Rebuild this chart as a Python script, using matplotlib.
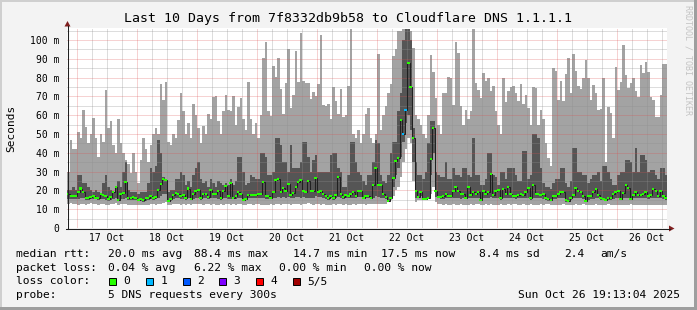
import numpy as np
import pandas as pd
import matplotlib
matplotlib.use("Agg")
import matplotlib.pyplot as plt
import matplotlib.dates as mdates
from matplotlib.patches import Rectangle, Polygon

# hourly consolidated smoke (5 sorted pings), values in ms
ping_min = [
    13, 13.5, 13, 13,
    12.5, 13, 13, 12.5, 13, 13.5, 13, 13, 12.5, 13, 13, 12.5, 12.5, 13, 13, 13.5, 12.5, 13, 13, 13, 12.5, 12.5, 12.5, 12,
    12, 12, 12.5, 12.5, 12.5, 13, 13, 12.5, 13, 13, 13.5, 14, 12.5, 12.5, 13, 13, 13, 12.5, 13, 12.5, 13, 12.5, 13, 13,
    13, 13, 12.5, 13, 13, 12.5, 13, 12.5, 12.5, 13, 12.5, 13, 13, 12.5, 13, 12.5, 13, 13, 12.5, 12.5, 13, 13, 12.5, 13,
    13, 12.5, 12.5, 12, 12.5, 13, 12.5, 13, 13, 12.5, 13, 13, 13, 12.5, 13, 13, 13, 12.5, 13, 13, 13.5, 13, 12.5, 13,
    13, 12.5, 13, 12.5, 12.5, 12.5, 13, 12.5, 13, 13, 12.5, 13, 12.5, 12.5, 13, 12.5, 13, 13, 13, 12.5, 13, 13, 13, 13,
    13, 13, 13, 13, 14, 15, 17, 20, 22, 27, 35, 42, 48, 45, 25, 14, 15, 15, 16, 17, 16, 18, 22, 14,
    13, 13, 12.5, 13, 12.5, 12.5, 13, 12.5, 12.5, 13, 12.5, 12, 12.5, 13, 12.5, 13, 13, 12.5, 12.5, 13, 12.5, 13, 12.5, 12.5,
    12.5, 13, 12.5, 12.5, 13, 12.5, 13, 13, 12.5, 12.5, 13, 12.5, 12.5, 13, 12.5, 12.5, 12.5, 13, 12.5, 13, 13, 12.5, 12.5, 12.5,
    12.5, 12.5, 13, 12.5, 12, 12.5, 12.5, 13, 12.5, 12.5, 13, 12.5, 12.5, 12.5, 12.5, 13, 12.5, 12.5, 12.5, 12.5, 13, 12.5, 12.5, 12.5,
    12.5, 12, 12.5, 12.5, 12.5, 13, 12.5, 12.5, 12, 12.5, 12.5, 12.5, 12.5, 12.5, 12.5, 12, 12.5, 12, 12, 12,
]
ping_2nd = [
    15.5, 15.5, 15.5, 15.5,
    15.5, 16, 16, 15, 15, 15.5, 15.5, 15.5, 15, 15.5, 15.5, 15, 14.5, 15, 15.5, 16, 14.5, 15.5, 15.5, 16, 15, 15, 15, 15,
    14.5, 14.5, 14, 14.5, 15, 15.5, 15, 15.5, 16, 17, 18, 18, 14, 14.5, 15.5, 16, 16, 15.5, 15.5, 15, 16, 15, 15.5, 16,
    16, 15, 16, 16, 15.5, 16, 16, 16, 15.5, 15, 16, 16, 15.5, 15.5, 15.5, 15.5, 16, 16, 14.5, 15, 16, 16, 16, 16,
    16, 16, 16, 15.5, 15.5, 15.5, 16, 16, 16.5, 16, 16.5, 16, 16.5, 16, 16, 16.5, 16.5, 16, 16.5, 16, 16, 16, 16, 17,
    16.5, 16.5, 16, 15.5, 15, 16, 15, 16, 16.5, 16, 15.5, 16, 16, 16, 16, 16, 16.5, 16.5, 15.5, 16, 16, 15.5, 16, 17,
    16.5, 16, 16, 15.5, 14, 15.5, 22, 28, 32, 38, 46, 56, 60, 52, 35, 16, 16, 17, 15, 15, 15.5, 28, 40, 16.5,
    16, 15.5, 15.5, 16, 16, 16, 16, 16, 16, 15.5, 16, 15.5, 16, 16, 16, 16, 16, 14.5, 16, 16, 16, 16.5, 16, 16,
    16, 15, 16, 16, 16, 16, 16, 15.5, 16, 16, 16, 16, 16, 15, 16, 16, 16, 16, 15.5, 15, 14.5, 15, 15.5, 15.5,
    16, 16, 16, 14, 14, 15, 16, 16, 16, 16, 15.5, 14, 15, 15.5, 15.5, 16, 16, 15, 15, 14.5, 15, 15, 15.5, 16,
    16, 15, 16, 16, 16, 15, 16, 16, 16, 16, 16, 16, 15.5, 16, 16, 16, 16, 16, 15.5, 15,
]
median = [
    18.3, 16.8, 16.8, 16.8,
    19.1, 21, 19.1, 15.8, 16.1, 16.7, 17.2, 16.1, 16.1, 17.9, 17.7, 16.8, 15.4, 16.5, 19.1, 21.6, 15, 18.3, 18.8, 24.3, 16.1, 16.1, 16.7, 15.8,
    14.9, 15.6, 14.7, 15.8, 16.1, 17.2, 16.1, 16.5, 20.4, 23.6, 26, 25.6, 14.5, 15.2, 17.7, 18.6, 18.3, 17.2, 17.7, 15.8, 21, 15.6, 17.9, 19.7,
    20.4, 15.8, 18.3, 18.3, 16.5, 20.4, 18.3, 18.3, 19.5, 16, 19.5, 22.5, 16.8, 24, 16, 16.8, 19, 18.3, 15, 15.6, 17.7, 17.7, 17.7, 17.7,
    18.3, 18.3, 24.5, 16.8, 16.8, 16, 19, 25.4, 26.2, 19.1, 21.3, 19.9, 23.6, 17.7, 18.6, 22, 24.5, 25.4, 19.9, 19.1, 24.8, 19.9, 19.5, 26.6,
    19.1, 19.5, 18.3, 16.8, 16, 17.2, 16, 17.7, 27, 18.3, 16.3, 17.7, 16.8, 18.3, 19.1, 16.8, 19.9, 19.9, 16, 16.8, 17, 16, 22.7, 32,
    22.7, 22.7, 18, 16.5, 14.5, 16, 26.6, 35.8, 37, 57.6, 50, 63, 88, 75, 48, 19.9, 16.3, 19, 15.6, 15.6, 16, 36.7, 53, 19.5,
    16.5, 16.5, 16.8, 18.3, 16.8, 17.2, 19.9, 21.6, 19.5, 18.3, 18.3, 16, 21.6, 17.7, 19.1, 18.3, 19, 15, 19.9, 18.3, 19.1, 28.7, 17.7, 19.5,
    20, 16, 20.7, 18.3, 21.6, 18.3, 16.8, 16.8, 17.7, 18.3, 17.7, 19, 21.3, 16, 22.7, 18.3, 18.3, 17.7, 18.3, 16, 15.6, 15, 16.8, 16.8,
    18.3, 19, 19, 14.7, 14.5, 16, 17.7, 21.3, 19.5, 19.1, 16.8, 14.5, 16.8, 16.8, 19, 20.7, 17.7, 16, 15.6, 15, 16, 16, 18.3, 19,
    19.5, 15.6, 18.6, 23, 21.3, 15.6, 17.7, 19, 17.7, 17.7, 18, 19.1, 16.8, 17.7, 20.7, 19.5, 17.2, 19.9, 16.8, 16,
]
ping_4th = [
    20, 20, 22, 20,
    28, 28, 24, 24, 22, 20, 19, 20, 19, 18, 24, 28, 22, 20, 19, 21, 25, 22, 30, 35, 20, 19, 19, 19,
    18, 19, 19, 19, 24, 32, 30, 33, 47, 40, 27, 24, 19, 20, 20, 26, 26, 30, 28, 23, 25, 22, 28, 32,
    35, 26, 24, 25, 22, 26, 24, 22, 25, 24, 23, 24, 23, 26, 23, 25, 38, 38, 30, 23, 24, 28, 27, 26,
    26, 40, 40, 38, 28, 28, 30, 48, 48, 44, 35, 35, 30, 44, 32, 32, 32, 35, 46, 46, 38, 30, 36, 39,
    30, 30, 30, 30, 30, 39, 40, 40, 32, 30, 22, 22, 28, 46, 46, 35, 30, 28, 25, 23, 28, 28, 35, 47,
    45, 28, 25, 24, 28, 40, 46, 46, 62, 72, 100, 106, 106, 100, 53, 35, 28, 28, 26, 30, 45, 57, 57, 30,
    28, 27, 27, 35, 26, 26, 32, 28, 28, 27, 32, 32, 28, 27, 48, 28, 28, 23, 23, 26, 40, 40, 28, 27,
    23, 30, 30, 26, 32, 32, 32, 28, 25, 25, 41, 41, 26, 28, 50, 50, 48, 32, 24, 22, 22, 21, 24, 26,
    26, 32, 32, 24, 22, 25, 42.5, 42.5, 30, 30, 28, 28, 24, 26, 28, 28, 30, 25, 33, 33, 30, 26, 23, 23,
    28, 30, 30, 36, 36, 35, 30, 42.5, 30, 39, 39, 36, 30, 31, 31, 28, 26, 32, 32, 28,
]
ping_max = [
    30, 47, 42, 42,
    51, 48, 62.8, 53.5, 45, 50, 58.7, 48, 38, 50, 46, 73.4, 53, 56.9, 44, 40, 58, 45, 40, 36, 34, 29, 40, 30,
    24, 36, 48, 42, 35, 44, 50, 53, 50, 76.6, 68, 77.8, 46, 44, 50, 48, 57.4, 72, 62, 50, 55.7, 48, 66, 60,
    53, 45, 54.4, 50, 60.6, 58, 69.8, 70, 57, 50, 62, 71, 63, 62, 70, 55, 64.5, 69.4, 58, 52, 77.7, 58, 50, 56,
    48, 60, 90.2, 99, 62, 59.6, 86.3, 80.4, 90.2, 73.7, 60.5, 77.4, 95, 64, 70.7, 94.3, 77.5, 103.9, 78.4, 77.4, 77.4, 68.6, 72.3, 70,
    76.4, 102.6, 65.4, 65, 66, 58, 74.8, 67.7, 60.6, 74, 59, 60, 75.8, 106, 50, 48, 52, 45, 50, 60.5, 64, 48, 45, 50,
    92.6, 52, 60, 65, 72, 76.6, 91.5, 95, 105, 105, 106, 106, 105, 105, 95.6, 60, 58, 55, 50, 48, 60, 92, 83, 69,
    55, 50, 72, 72, 80.4, 80, 65.4, 99, 92.9, 65, 55, 63, 58, 62, 106, 77, 73.5, 69.4, 82.6, 78, 80, 73, 75.6, 62,
    55, 50, 79.6, 67, 73, 75, 75.6, 71.7, 67.7, 76.4, 65.8, 70.7, 64, 55, 75, 74.4, 55, 63, 58, 45, 37, 33, 84.9, 83.7,
    68, 78.4, 67.7, 82, 90.2, 71.7, 92.6, 83.7, 75.6, 73.7, 79.6, 89.4, 79.6, 68, 76, 72, 62.7, 63.5, 79.6, 35, 64.5, 61, 48, 85.8,
    73.5, 77.8, 97.4, 81.4, 74.4, 77, 80, 73, 69.8, 86.7, 82.6, 88.4, 83, 69.8, 68, 59, 59, 70.7, 87.3, 87.3,
]
loss1_steps = [134, 135]  # hours where 1 of 5 requests was lost

day_labels = ["17 Oct", "18 Oct", "19 Oct", "20 Oct", "21 Oct",
              "22 Oct", "23 Oct", "24 Oct", "25 Oct", "26 Oct"]
ytick_vals = [0, 10, 20, 30, 40, 50, 60, 70, 80, 90, 100]
ytick_labels = ["0"] + [f"{v} m" for v in ytick_vals[1:]]

legend_lines = [
    ("median rtt:", [(107.6, "20.0 ms avg"), (194.2, "88.4 ms max"), (293.3, "14.7 ms min"),
                     (381.3, "17.5 ms now"), (479.1, "8.4 ms sd"), (564.4, "2.4"), (600.0, "am/s")]),
    ("packet loss:", [(107.6, "0.04 % avg"), (194.2, "6.22 % max"), (279.0, "0.00 % min"),
                      (364.4, "0.00 % now")]),
]
loss_names = ["0", "1", "2", "3", "4", "5/5"]
loss_colors = ["#26ff00", "#00b8ff", "#0059ff", "#7e00ff", "#ff0000", "#a00000"]

W, H = 697, 310
MONO = "DejaVu Sans Mono"
LIGHT = "#a3a3a3"
DARK = "#555555"
GRID = (0.56, 0.56, 0.56, 0.6)
MGRID = (0.87, 0.31, 0.31, 0.5)

edges = mdates.date2num(pd.date_range("2025-10-16 20:00", periods=241, freq="h").to_pydatetime())

mn = np.array(ping_min)
p2 = np.minimum(np.array(ping_2nd), median)
med = np.array(median)
p4 = np.maximum(np.array(ping_4th), med)
mx = np.maximum(np.array(ping_max), p4)

fig = plt.figure(figsize=(W / 100, H / 100), dpi=100)
fig.patch.set_facecolor("#f3f3f3")

ax = fig.add_axes([67 / W, 1 - 228 / H, 600 / W, 200 / H])
ax.set_facecolor("white")
for s in ax.spines.values():
    s.set_visible(False)

ax.stairs(p2, edges, baseline=mn, fill=True, color=LIGHT, lw=0, antialiased=False, zorder=2)
ax.stairs(p4, edges, baseline=p2, fill=True, color=DARK, lw=0, antialiased=False, zorder=2)
ax.stairs(mx, edges, baseline=p4, fill=True, color=LIGHT, lw=0, antialiased=False, zorder=2)
ax.stairs(med, edges, baseline=None, color="#202020", lw=0.75, zorder=4)

step = edges[1] - edges[0]
centers = edges[:-1] + step / 2
mcol = [loss_colors[1] if i in loss1_steps else loss_colors[0] for i in range(len(med))]
ax.bar(centers, 1.1, bottom=med - 0.55, width=step, color=mcol, lw=0, zorder=5)

ax.set_xlim(edges[0], edges[-1])
ax.set_ylim(0, 106.4)

# grid, drawn over the smoke like rrdtool does
six_h = mdates.date2num(pd.date_range("2025-10-16 00:00", "2025-10-27 00:00", freq="6h").to_pydatetime())
for t in six_h:
    if edges[0] < t < edges[-1]:
        major = (round((t % 1) * 24) % 24) == 0
        ax.axvline(t, color=MGRID if major else GRID, lw=0.72, ls=(0, (1, 1)), zorder=3)
for v in range(5, 106, 5):
    ax.axhline(v, color=MGRID if v % 10 == 0 else GRID, lw=0.72, ls=(0, (1, 1)), zorder=3)

noons = mdates.date2num(pd.date_range("2025-10-17 12:00", periods=10, freq="D").to_pydatetime())
ax.set_xticks(noons, day_labels)
ax.set_yticks(ytick_vals, ytick_labels)
ax.tick_params(length=0, labelsize=7)
ax.tick_params(axis="x", pad=3.6)
ax.tick_params(axis="y", pad=5.4)
for lab in ax.get_xticklabels() + ax.get_yticklabels():
    lab.set_family(MONO)

# overlay in pixel coordinates for frame, axes arrows and text
ov = fig.add_axes([0, 0, 1, 1])
ov.set_xlim(0, W)
ov.set_ylim(H, 0)
ov.axis("off")
ov.patch.set_alpha(0)

ov.add_patch(Rectangle((0, 0), W, 2, color="#cfcfcf", lw=0))
ov.add_patch(Rectangle((0, 0), 2, H, color="#cfcfcf", lw=0))
ov.add_patch(Rectangle((0, H - 3), W, 3, color="#9e9e9e", lw=0))
ov.add_patch(Rectangle((W - 3, 0), 3, H, color="#9e9e9e", lw=0))

ov.plot([67.5, 67.5], [229, 26], color="#202020", lw=0.75)
ov.plot([66, 670], [228.5, 228.5], color="#202020", lw=0.75)
ov.add_patch(Polygon([(64.5, 26.5), (70.5, 26.5), (67.5, 21)], closed=True, color="#801f1f", lw=0))
ov.add_patch(Polygon([(669, 225.5), (669, 231.5), (674.5, 228.5)], closed=True, color="#801f1f", lw=0))

ov.text(348.5, 18.5, "Last 10 Days from 7f8332db9b58 to Cloudflare DNS 1.1.1.1",
        family=MONO, fontsize=9.5, ha="center", va="center")
ov.text(11, 128, "Seconds", family=MONO, fontsize=8, rotation=90, ha="center", va="center")
ov.text(688, 60, "RRDTOOL / TOBI OETIKER", family=MONO, fontsize=6, rotation=270,
        ha="center", va="center", color="#c4c4c4")

rows_y = [254, 268, 281.5, 295]
for (head, items), y in zip(legend_lines, rows_y):
    ov.text(16.4, y, head, family=MONO, fontsize=8.1, va="center")
    for x, s in items:
        ov.text(x, y, s, family=MONO, fontsize=8.1, va="center")

ov.text(16.4, rows_y[2], "loss color:", family=MONO, fontsize=8.1, va="center")
box_x = [109, 146, 182.5, 219, 256, 293]
for bx, name, col in zip(box_x, loss_names, loss_colors):
    ov.add_patch(Rectangle((bx, rows_y[2] - 3.5), 7, 7, facecolor=col, edgecolor="black", lw=0.7))
    ov.text(bx + 14.5, rows_y[2], name, family=MONO, fontsize=8.1, va="center")

ov.text(16.4, rows_y[3], "probe:", family=MONO, fontsize=8.1, va="center")
ov.text(107.6, rows_y[3], "5 DNS requests every 300s", family=MONO, fontsize=8.1, va="center")
ov.text(680, rows_y[3], "Sun Oct 26 19:13:04 2025", family=MONO, fontsize=8.1, va="center", ha="right")

fig.savefig("out.png", dpi=100, facecolor=fig.get_facecolor())
